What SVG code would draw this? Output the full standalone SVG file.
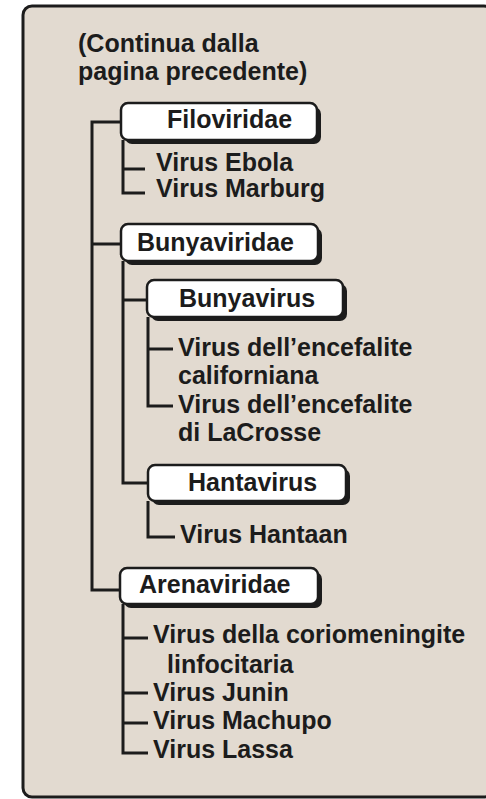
<svg xmlns="http://www.w3.org/2000/svg" width="486" height="799" viewBox="0 0 486 799">
<style>
.t{font-family:"Liberation Sans",Arial,sans-serif;font-weight:bold;font-size:25px;fill:#1c1c1c}
.c{fill:none;stroke:#1c1c1c;stroke-width:3}
.sh{fill:#1c1c1c}
.bx{fill:#fff;stroke:#1c1c1c;stroke-width:2.5}
</style>
<rect width="486" height="799" fill="#fff"/>
<rect x="23" y="6" width="470" height="791" rx="9" fill="#e2dad0" stroke="#1c1c1c" stroke-width="3"/>
<g id="title">
<text class="t" x="78" y="52">(Continua dalla</text>
<text class="t" x="78" y="80">pagina precedente)</text>
</g>
<g id="connectors">
<path class="c" d="M121,122 H92 V590 H120 M92,244 H121"/>
<path class="c" d="M123,140 V193 H145 M123,169 H145"/>
<path class="c" d="M123,261 V483 H148 M123,300 H147"/>
<path class="c" d="M148,317 V406 H173 M148,349 H173"/>
<path class="c" d="M148,501 V537 H175"/>
<path class="c" d="M123,604 V753 H148 M123,638 H148 M123,693 H148 M123,723 H148"/>
</g>
<g id="filoviridae">
<rect class="sh" x="125" y="107" width="196" height="37" rx="7"/>
<rect class="bx" x="121" y="103" width="196" height="37" rx="7"/>
<text class="t" x="167" y="128">Filoviridae</text>
</g>
<g id="ebola"><text class="t" x="156" y="171">Virus Ebola</text></g>
<g id="marburg"><text class="t" x="156" y="197">Virus Marburg</text></g>
<g id="bunyaviridae">
<rect class="sh" x="125" y="228" width="197" height="37" rx="7"/>
<rect class="bx" x="121" y="224" width="197" height="37" rx="7"/>
<text class="t" x="137" y="251">Bunyaviridae</text>
</g>
<g id="bunyavirus">
<rect class="sh" x="151" y="284" width="196" height="37" rx="7"/>
<rect class="bx" x="147" y="280" width="196" height="37" rx="7"/>
<text class="t" x="179" y="307">Bunyavirus</text>
</g>
<g id="encefalite-californiana">
<text class="t" x="178" y="356">Virus dell’encefalite</text>
<text class="t" x="178" y="384">californiana</text>
</g>
<g id="encefalite-lacrosse">
<text class="t" x="178" y="413">Virus dell’encefalite</text>
<text class="t" x="178" y="441">di LaCrosse</text>
</g>
<g id="hantavirus">
<rect class="sh" x="152" y="469" width="198" height="36" rx="7"/>
<rect class="bx" x="148" y="465" width="198" height="36" rx="7"/>
<text class="t" x="188" y="491">Hantavirus</text>
</g>
<g id="hantaan"><text class="t" x="180" y="543">Virus Hantaan</text></g>
<g id="arenaviridae">
<rect class="sh" x="124" y="572" width="198" height="36" rx="7"/>
<rect class="bx" x="120" y="568" width="198" height="36" rx="7"/>
<text class="t" x="139" y="593">Arenaviridae</text>
</g>
<g id="coriomeningite">
<text class="t" x="153" y="643">Virus della coriomeningite</text>
<text class="t" x="167" y="673">linfocitaria</text>
</g>
<g id="junin"><text class="t" x="153" y="701">Virus Junin</text></g>
<g id="machupo"><text class="t" x="153" y="729">Virus Machupo</text></g>
<g id="lassa"><text class="t" x="153" y="758">Virus Lassa</text></g>
</svg>
